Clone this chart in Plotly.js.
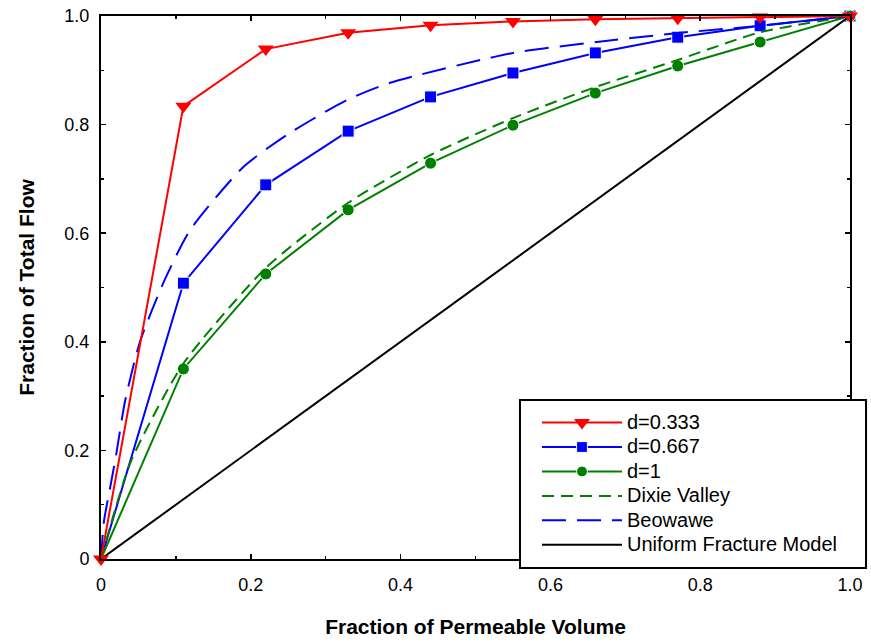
<!DOCTYPE html>
<html>
<head>
<meta charset="utf-8">
<script src="https://cdn.plot.ly/plotly-3.0.1.min.js"></script>
<style>html,body{margin:0;padding:0;background:#fff;}#chart{width:871px;height:643px;}</style>
</head>
<body>
<div id="chart"></div>
<script>
// Model curves (fraction of permeable volume vs fraction of total flow)
const xModel = [0, 0.11, 0.22, 0.33, 0.44, 0.55, 0.66, 0.77, 0.88, 1.0];
const yD0333 = [0, 0.834, 0.939, 0.969, 0.983, 0.990, 0.994, 0.996, 0.998, 1.0];
const yD0667 = [0, 0.508, 0.689, 0.788, 0.851, 0.895, 0.932, 0.961, 0.982, 1.0];
const yD1 = [0, 0.350, 0.525, 0.643, 0.729, 0.799, 0.858, 0.908, 0.952, 1.0];

// Field data curves
const xDixie = [0, 0.04, 0.11, 0.22, 0.33, 0.44, 0.55, 0.66, 0.77, 0.88, 1.0];
const yDixie = [0, 0.18, 0.36, 0.536, 0.656, 0.744, 0.812, 0.869, 0.919, 0.970, 1.0];
const xBeowawe = [0, 0.004, 0.012, 0.02, 0.032, 0.052, 0.085, 0.119, 0.19, 0.248, 0.328, 0.386, 0.55, 0.662, 0.773, 0.88, 1.0];
const yBeowawe = [0, 0.07, 0.13, 0.19, 0.29, 0.40, 0.514, 0.606, 0.722, 0.781, 0.845, 0.877, 0.932, 0.952, 0.969, 0.982, 1.0];

const xUniform = [0, 1];
const yUniform = [0, 1];

const seriesNames = ['d=0.333', 'd=0.667', 'd=1', 'Dixie Valley', 'Beowawe', 'Uniform Fracture Model'];

const tickVals = [0, 0.2, 0.4, 0.6, 0.8, 1.0];
const tickText = ['0', '0.2', '0.4', '0.6', '0.8', '1.0'];

const FONT = 'Liberation Sans, Arial, sans-serif';
const legName = s => '<span style="font-size:20px">' + s + '</span>';
const hideFirst = (arr, size) => arr.map((v, i) => (i === 0 ? 0 : size));

const traces = [
  {x: xModel, y: yD0667, name: legName(seriesNames[1]), legendrank: 2, mode: 'lines+markers', cliponaxis: false,
   line: {color: '#0000ff', width: 2}, marker: {symbol: 'square', size: hideFirst(xModel, 12), opacity: 1, color: '#0000ff'}},
  {x: xModel, y: yD1, name: legName(seriesNames[2]), legendrank: 3, mode: 'lines+markers', cliponaxis: false,
   line: {color: '#008000', width: 2}, marker: {symbol: 'circle', size: hideFirst(xModel, 12), opacity: 1, color: '#008000'}},
  {x: xDixie, y: yDixie, name: legName(seriesNames[3]), legendrank: 4, mode: 'lines',
   line: {color: '#008000', width: 2, dash: '12px,7px', shape: 'spline', smoothing: 0.6}},
  {x: xBeowawe, y: yBeowawe, name: legName(seriesNames[4]), legendrank: 5, mode: 'lines',
   line: {color: '#0000ff', width: 2, dash: '24px,11px', shape: 'spline', smoothing: 0.6}},
  {x: xUniform, y: yUniform, name: legName(seriesNames[5]), legendrank: 6, mode: 'lines',
   line: {color: '#000000', width: 2}},
  {x: xModel, y: yD0333, name: legName(seriesNames[0]), legendrank: 1, mode: 'lines+markers', cliponaxis: false,
   line: {color: '#ff0000', width: 2}, marker: {symbol: 'triangle-down', size: 14, color: '#ff0000'}}
];

const axisCommon = {
  range: [0, 1], showgrid: false, zeroline: false,
  showline: true, linecolor: '#000', linewidth: 2, mirror: 'ticks',
  ticks: 'inside', ticklen: 5, tickwidth: 1.5, tickcolor: '#000',
  tickvals: tickVals, ticktext: tickText,
  tickfont: {family: FONT, size: 18, color: '#000'},
  minor: {ticks: 'inside', ticklen: 3, tickwidth: 1.5, tickcolor: '#000', dtick: 0.1, showgrid: false}
};

const layout = {
  width: 871, height: 643,
  margin: {l: 101, r: 21, t: 16, b: 84},
  paper_bgcolor: '#fff', plot_bgcolor: '#fff',
  showlegend: true,
  xaxis: Object.assign({}, axisCommon, {
    ticklabelstandoff: 8,
    title: {text: '<b>Fraction of Permeable Volume</b>', font: {family: FONT, size: 21, color: '#000'}, standoff: 26}
  }),
  yaxis: Object.assign({}, axisCommon, {
    ticklabelstandoff: 6,
    title: {text: '<b>Fraction of Total Flow</b>', font: {family: FONT, size: 21, color: '#000'}, standoff: 24}
  }),
  // legend frame (box extends past the right axis as in the original)
  shapes: [{
    type: 'rect', xref: 'paper', yref: 'paper', layer: 'above',
    x0: 0.5594, x1: 1.0214, y0: -0.0166, y1: 0.2928,
    line: {color: '#000', width: 2}, fillcolor: '#fff'
  }],
  legend: {
    x: 0.5821, y: 0.2830, xanchor: 'left', yanchor: 'top',
    bgcolor: 'rgba(0,0,0,0)', borderwidth: 0,
    font: {family: FONT, size: 16.5, color: '#000'},
    itemwidth: 80, tracegroupgap: 0, traceorder: 'normal'
  }
};

Plotly.newPlot('chart', traces, layout, {displayModeBar: false, staticPlot: true});
</script>
</body>
</html>
